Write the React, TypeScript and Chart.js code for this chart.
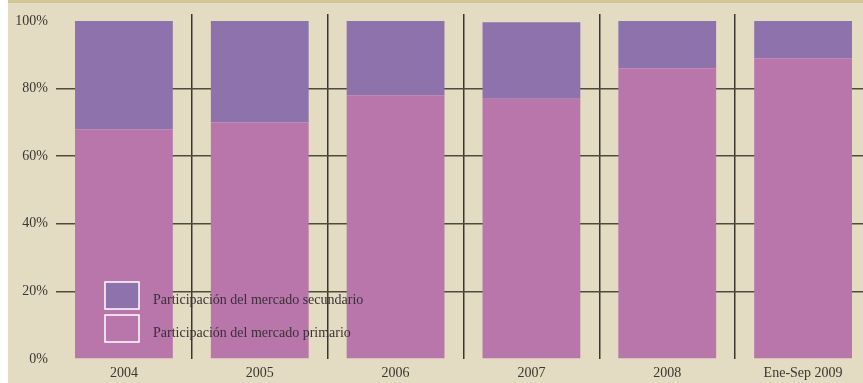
import React, { useEffect, useRef } from "react";
import { Chart, registerables } from "chart.js";

Chart.register(...registerables);

const categories = ["2004", "2005", "2006", "2007", "2008", "Ene-Sep 2009"];
const primario = [68, 70, 78, 77, 86, 89];
const secundario = [32, 30, 22, 22.6, 14, 11];
const yTicks = [0, 20, 40, 60, 80, 100];
const seriesNames = [
  "Participación del mercado secundario",
  "Participación del mercado primario",
];

const BG = "#e4dcc2";
const PURPLE = "#8d72ab";
const PINK = "#b876ab";
const FONT = "'Liberation Serif', 'DejaVu Serif', serif";

const legendPlugin = {
  id: "customLegend",
  afterDatasetsDraw(chart: any) {
    const ctx = chart.ctx;
    const ds = chart.data.datasets;
    const items = [ds[1], ds[0]];
    const x0 = 97;
    const ys = [282, 315];
    ctx.save();
    items.forEach((d: any, i: number) => {
      const y = ys[i];
      ctx.fillStyle = d.backgroundColor;
      ctx.fillRect(x0, y, 34, 27);
      ctx.strokeStyle = "#ffffff";
      ctx.lineWidth = 1.5;
      ctx.strokeRect(x0, y, 34, 27);
      ctx.fillStyle = "#3a3038";
      ctx.font = "14px " + FONT;
      ctx.textBaseline = "middle";
      ctx.textAlign = "left";
      ctx.fillText(d.label, 145, y + 18);
    });
    ctx.restore();
  },
};

export default function App() {
  const ref = useRef<HTMLCanvasElement | null>(null);
  useEffect(() => {
    if (!ref.current) return;
    const chart = new Chart(ref.current, {
      type: "bar",
      data: {
        labels: categories,
        datasets: [
          {
            label: seriesNames[1],
            data: primario,
            backgroundColor: PINK,
            barPercentage: 0.72,
            categoryPercentage: 1,
          },
          {
            label: seriesNames[0],
            data: secundario,
            backgroundColor: PURPLE,
            barPercentage: 0.72,
            categoryPercentage: 1,
          },
        ],
      },
      options: {
        responsive: false,
        animation: false,
        layout: { padding: { top: 14, left: 0, right: 0, bottom: 0 } },
        plugins: {
          legend: { display: false },
          tooltip: { enabled: false },
        },
        scales: {
          x: {
            stacked: true,
            afterFit: (s: any) => {
              s.height = 24;
              s.paddingLeft = 0;
              s.paddingRight = 0;
            },
            border: { display: false },
            grid: {
              offset: true,
              drawTicks: false,
              lineWidth: 1.5,
              color: (c: any) => (c.index === 0 ? "rgba(0,0,0,0)" : "#3b362e"),
            },
            ticks: {
              padding: 6,
              color: "#3a3630",
              font: { family: FONT, size: 14 },
            },
          },
          y: {
            stacked: true,
            min: 0,
            max: 102.07,
            afterFit: (s: any) => {
              s.width = 48;
              s.paddingTop = 0;
              s.paddingBottom = 0;
            },
            afterBuildTicks: (s: any) => {
              s.ticks = yTicks.map((v) => ({ value: v }));
            },
            border: { display: false },
            grid: {
              drawTicks: false,
              lineWidth: 1.5,
              color: (c: any) =>
                c.tick && c.tick.value > 0 && c.tick.value < 100
                  ? "#4f4a3f"
                  : "rgba(0,0,0,0)",
            },
            ticks: {
              padding: 8,
              color: "#3a3630",
              font: { family: FONT, size: 14 },
              callback: (v: any) => v + "%",
            },
          },
        },
      },
      plugins: [legendPlugin],
    });
    return () => chart.destroy();
  }, []);

  return (
    <div
      style={{
        position: "fixed",
        left: 8,
        top: 0,
        width: 855,
        height: 383,
        overflow: "hidden",
        background: BG,
      }}
    >
      <canvas ref={ref} width={863} height={383} style={{ display: "block" }} />
      <div
        style={{
          position: "absolute",
          left: 0,
          top: 0,
          width: 855,
          height: 3,
          background: "#d2c596",
        }}
      />
    </div>
  );
}
